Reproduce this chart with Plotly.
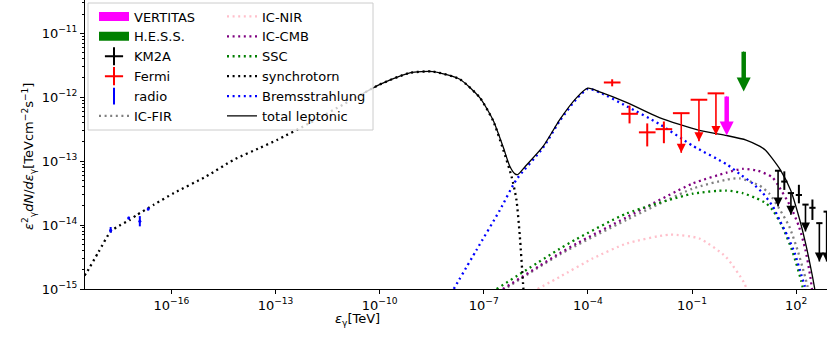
import numpy as np
import plotly.graph_objects as go

# ---------------- data (log10 values) ----------------
# x: log10(E / TeV), y: log10(E^2 dN/dE / TeV cm^-2 s^-1)
sync_logE = [-18.6, -18.44, -18.1, -17.75, -17.5, -17.2, -16.99, -16.5, -15.93, -15.0, -14.21,
             -13.44, -12.96, -12.0, -11.0, -9.99, -9.13, -8.46, -7.69, -7.11, -6.73, -6.44,
             -6.20, -6.06, -5.96, -5.87, -5.82]
sync_logF = [-14.86, -14.74, -14.42, -14.10, -14.01, -13.92, -13.84, -13.68, -13.50, -13.24, -12.98,
             -12.79, -12.67, -12.40, -12.10, -11.80, -11.62, -11.60, -11.72, -12.01, -12.37, -12.82,
             -13.24, -13.60, -14.18, -14.90, -15.3]

brems_logE = [-7.95, -7.21, -6.54, -6.06, -5.29, -4.81, -4.33, -4.0, -3.64, -2.89, -1.94, -0.98,
              0.0, 0.37, 0.75, 1.04, 1.33, 1.52, 1.76, 1.96, 2.15, 2.25, 2.32]
brems_logF = [-15.08, -14.39, -13.77, -13.29, -12.79, -12.37, -12.03, -11.87, -11.93, -12.14, -12.42,
              -12.76, -13.05, -13.20, -13.35, -13.50, -13.71, -13.92, -14.18, -14.44, -14.78, -14.96, -15.15]

total_logE = [-10.5, -9.99, -9.13, -8.46, -7.69, -7.11, -6.73, -6.44, -6.25, -6.10, -6.02, -5.8,
              -5.29, -4.81, -4.33, -4.0, -3.64, -2.89, -1.94, -0.79, 0.0, 0.56, 0.96, 1.12, 1.30,
              1.55, 1.84, 2.08, 2.27, 2.47, 2.53, 2.58]
total_logF = [-11.95, -11.80, -11.62, -11.60, -11.72, -12.01, -12.36, -12.78, -13.08, -13.20, -13.21,
              -13.08, -12.77, -12.35, -12.01, -11.86, -11.92, -12.08, -12.32, -12.52, -12.60, -12.67,
              -12.77, -12.83, -12.95, -13.14, -13.45, -13.87, -14.28, -14.80, -14.98, -15.15]

cmb_logE = [-6.45, -4.81, -4.33, -2.89, -0.98, 0.0, 0.46, 0.9, 1.31, 1.46, 1.84, 2.08, 2.27, 2.41, 2.48]
cmb_logF = [-15.0, -14.44, -14.29, -13.88, -13.35, -13.18, -13.12, -13.15, -13.25, -13.36, -13.71,
            -14.02, -14.39, -14.81, -15.1]

fir_logE = [-6.45, -4.81, -2.89, -0.98, 0.0, 0.37, 0.94, 1.23, 1.51, 1.80, 2.04, 2.23, 2.33, 2.38]
fir_logF = [-15.02, -14.46, -13.92, -13.43, -13.29, -13.27, -13.38, -13.51, -13.74, -14.02, -14.39,
            -14.75, -14.96, -15.1]

ssc_logE = [-6.63, -4.81, -4.33, -2.89, -0.98, -0.02, 0.46, 0.85, 1.14, 1.33, 1.6, 1.9, 2.15, 2.22]
ssc_logF = [-15.0, -14.37, -14.22, -13.82, -13.51, -13.46, -13.50, -13.58, -13.66, -13.77, -14.02,
            -14.42, -14.88, -15.05]

nir_logE = [-5.45, -4.81, -3.85, -2.89, -1.65, -0.79, -0.02, 0.51, 0.6]
nir_logF = [-15.0, -14.81, -14.52, -14.29, -14.15, -14.21, -14.50, -14.91, -15.05]

radio_logE = [-17.75, -17.23, -16.91, -16.67]
radio_logF = [-14.08, -13.89, -13.94, -13.75]
radio_logF_lo = [-14.12, -13.91, -14.02, -13.77]
radio_logF_hi = [-14.03, -13.87, -13.86, -13.73]

fermi_logE = [-3.30, -2.80, -2.29, -1.81]
fermi_logE_lo = [-3.54, -3.04, -2.53, -2.05]
fermi_logE_hi = [-3.06, -2.56, -2.05, -1.57]
fermi_logF = [-11.77, -12.26, -12.55, -12.50]
fermi_logF_lo = [-11.83, -12.41, -12.77, -12.72]
fermi_logF_hi = [-11.72, -12.13, -12.41, -12.38]

fermi_ul_logE = [-1.31, -0.80, -0.31]
fermi_ul_logE_lo = [-1.55, -1.04, -0.55]
fermi_ul_logE_hi = [-1.07, -0.56, -0.07]
fermi_ul_logF = [-12.25, -12.04, -11.94]
fermi_ul_logF_tip = [-12.87, -12.69, -12.59]

km2a_logE = [1.66, 2.08, 2.47]
km2a_logE_lo = [1.57, 1.99, 2.38]
km2a_logE_hi = [1.75, 2.17, 2.56]
km2a_logF = [-13.32, -13.53, -13.73]
km2a_logF_lo = [-13.45, -13.66, -13.92]
km2a_logF_hi = [-13.16, -13.37, -13.60]

km2a_ul_logE = [1.48, 1.85, 2.27, 2.67, 2.88]
km2a_ul_logE_lo = [1.39, 1.76, 2.18, 2.58, 2.79]
km2a_ul_logE_hi = [1.57, 1.94, 2.36, 2.76, 2.97]
km2a_ul_logF = [-13.15, -13.50, -13.68, -13.97, -13.79]
km2a_ul_logF_tip = [-13.71, -13.84, -14.10, -14.57, -14.57]

veritas_logE = [0.0]
veritas_logF = [-11.99]
veritas_logF_tip = [-12.60]

hess_logE = [0.49]
hess_logF = [-11.29]
hess_logF_tip = [-11.91]

x_tick_exp = [-16, -13, -10, -7, -4, -1, 2]
y_tick_exp = [-15, -14, -13, -12, -11]


def P(a):
    return np.power(10.0, np.asarray(a, dtype=float))


FONT = "DejaVu Sans"
DOT = "2px,3.6px"
fig = go.Figure()


def model(lx, ly, color, width=2.3, dash=DOT):
    fig.add_trace(go.Scatter(x=P(lx), y=P(ly), mode="lines", showlegend=False, hoverinfo="skip",
                             line=dict(color=color, width=width, dash=dash, shape="spline", smoothing=0.6)))


model(fir_logE, fir_logF, "gray")
model(nir_logE, nir_logF, "pink")
model(cmb_logE, cmb_logF, "purple")
model(ssc_logE, ssc_logF, "green")
model(sync_logE, sync_logF, "black")
model(brems_logE, brems_logF, "blue")
model(total_logE, total_logF, "black", width=1.3, dash="solid")


def points(lx, lx_lo, lx_hi, ly, ly_lo, ly_hi, color):
    x, y = P(lx), P(ly)
    fig.add_trace(go.Scatter(
        x=x, y=y, mode="markers", showlegend=False, hoverinfo="skip",
        marker=dict(size=1, color=color),
        error_x=dict(type="data", symmetric=False, array=P(lx_hi) - x, arrayminus=x - P(lx_lo),
                     thickness=2, width=0, color=color),
        error_y=dict(type="data", symmetric=False, array=P(ly_hi) - y, arrayminus=y - P(ly_lo),
                     thickness=2, width=0, color=color)))


def uplims(lx, lx_lo, lx_hi, ly, ly_tip, color, head=9):
    x, y, tip = P(lx), P(ly), P(ly_tip)
    fig.add_trace(go.Scatter(
        x=x, y=y, mode="markers", showlegend=False, hoverinfo="skip",
        marker=dict(size=1, color=color),
        error_x=dict(type="data", symmetric=False, array=P(lx_hi) - x, arrayminus=x - P(lx_lo),
                     thickness=2, width=0, color=color),
        error_y=dict(type="data", symmetric=False, array=0 * y, arrayminus=y - tip,
                     thickness=1.6, width=0, color=color)))
    fig.add_trace(go.Scatter(x=x, y=tip, mode="markers", showlegend=False, hoverinfo="skip",
                             marker=dict(symbol="arrow-down", size=head, color=color)))


def big_arrow(lx, ly, ly_tip, color):
    x, y, tip = P(lx), P(ly), P(ly_tip)
    fig.add_trace(go.Scatter(
        x=x, y=y, mode="markers", showlegend=False, hoverinfo="skip",
        marker=dict(size=1, color=color),
        error_y=dict(type="data", symmetric=False, array=0 * y, arrayminus=(y - tip) * 0.85,
                     thickness=4.5, width=0, color=color)))
    fig.add_trace(go.Scatter(x=x, y=tip, mode="markers", showlegend=False, hoverinfo="skip",
                             marker=dict(symbol="arrow-down", size=14, color=color)))


# radio
xr, yr = P(radio_logE), P(radio_logF)
fig.add_trace(go.Scatter(
    x=xr, y=yr, mode="markers", showlegend=False, hoverinfo="skip",
    marker=dict(size=3, color="blue"),
    error_y=dict(type="data", symmetric=False, array=P(radio_logF_hi) - yr,
                 arrayminus=yr - P(radio_logF_lo), thickness=2, width=0, color="blue")))

points(fermi_logE, fermi_logE_lo, fermi_logE_hi, fermi_logF, fermi_logF_lo, fermi_logF_hi, "red")
uplims(fermi_ul_logE, fermi_ul_logE_lo, fermi_ul_logE_hi, fermi_ul_logF, fermi_ul_logF_tip, "red")
points(km2a_logE, km2a_logE_lo, km2a_logE_hi, km2a_logF, km2a_logF_lo, km2a_logF_hi, "black")
uplims(km2a_ul_logE, km2a_ul_logE_lo, km2a_ul_logE_hi, km2a_ul_logF, km2a_ul_logF_tip, "black")
big_arrow(veritas_logE, veritas_logF, veritas_logF_tip, "magenta")
big_arrow(hess_logE, hess_logF, hess_logF_tip, "green")

# ---------------- legend entries ----------------
def leg_line(name, color, width, dash, legend):
    fig.add_trace(go.Scatter(x=[None], y=[None], mode="lines", name=name, legend=legend,
                             line=dict(color=color, width=width, dash=dash)))


def leg_marker(name, color, symbol, size, legend):
    fig.add_trace(go.Scatter(x=[None], y=[None], mode="markers", name=name, legend=legend,
                             marker=dict(symbol=symbol, size=size, color=color,
                                         line=dict(color=color, width=2))))


leg_line("VERTITAS", "magenta", 9, "solid", "legend")
leg_line("H.E.S.S.", "green", 9, "solid", "legend")
leg_marker("KM2A", "black", "cross-thin", 13, "legend")
leg_marker("Fermi", "red", "cross-thin", 13, "legend")
leg_marker("radio", "blue", "line-ns", 12, "legend")
leg_line("IC-FIR", "gray", 2.3, DOT, "legend")
leg_line("IC-NIR", "pink", 2.3, DOT, "legend2")
leg_line("IC-CMB", "purple", 2.3, DOT, "legend2")
leg_line("SSC", "green", 2.3, DOT, "legend2")
leg_line("synchrotorn", "black", 2.3, DOT, "legend2")
leg_line("Bremsstrahlung", "blue", 2.3, DOT, "legend2")
leg_line("total leptonic", "black", 1.3, "solid", "legend2")

# ---------------- layout ----------------
L, B, W, H = 85, 58, 827, 347
pw, ph = W - L, H - B


def px(xpix):
    return (xpix - L) / pw


def py(ypix):
    return (ph - ypix) / ph


leg_common = dict(xanchor="left", yanchor="top", bgcolor="rgba(0,0,0,0)", borderwidth=0,
                  font=dict(family=FONT, size=13, color="black"), tracegroupgap=0,
                  itemwidth=30, itemclick=False)

minor_y = [k * 10.0 ** e for e in range(-16, -10) for k in range(2, 10)]

fig.update_layout(
    width=W, height=H, margin=dict(l=L, r=0, t=0, b=B, autoexpand=False),
    paper_bgcolor="white", plot_bgcolor="white",
    font=dict(family=FONT, size=13, color="black"),
    legend=dict(x=px(94), y=py(1.5), **leg_common),
    legend2=dict(x=px(222), y=py(1.5), **leg_common),
    xaxis=dict(type="log", range=[-18.49, 2.89], showgrid=False, zeroline=False, automargin=False,
               showline=True, linecolor="black", linewidth=1, ticks="outside", ticklen=4,
               tickcolor="black", tickvals=[10.0 ** e for e in x_tick_exp],
               ticktext=["10<sup>\u2212%d</sup>" % -e if e < 0 else "10<sup>%d</sup>" % e for e in x_tick_exp],
               tickfont=dict(family=FONT, size=13)),
    yaxis=dict(type="log", range=[-15.0, -10.48], showgrid=False, zeroline=False, automargin=False,
               showline=True, linecolor="black", linewidth=1, ticks="outside", ticklen=4,
               tickcolor="black", tickvals=[10.0 ** e for e in y_tick_exp],
               ticktext=["10<sup>\u2212%d</sup>" % -e for e in y_tick_exp],
               tickfont=dict(family=FONT, size=13),
               minor=dict(tickvals=minor_y, ticks="outside", ticklen=2, tickcolor="black")),
    shapes=[dict(type="rect", xref="paper", yref="paper", layer="above",
                 x0=px(88), x1=px(373), y0=py(130), y1=py(3),
                 line=dict(color="#cccccc", width=1), fillcolor="rgba(255,255,255,0.8)")],
    annotations=[
        dict(text="<i>\u03b5</i><sub>\u03b3</sub>[TeV]", xref="paper", yref="paper",
             x=px(357), y=py(330), showarrow=False, font=dict(family=FONT, size=13)),
        dict(text="<i>\u03b5</i><sup>2</sup><sub>\u03b3</sub><i>dN</i>/<i>d\u03b5</i><sub>\u03b3</sub>"
                  "[TeVcm<sup>\u22122</sup>s<sup>\u22121</sup>]",
             xref="paper", yref="paper", x=px(18), y=py(157), textangle=-90,
             showarrow=False, font=dict(family=FONT, size=13)),
    ],
)

fig.write_html("out.html", config={"displayModeBar": False},
               post_script="document.body.style.margin='0';document.body.style.padding='0';")
